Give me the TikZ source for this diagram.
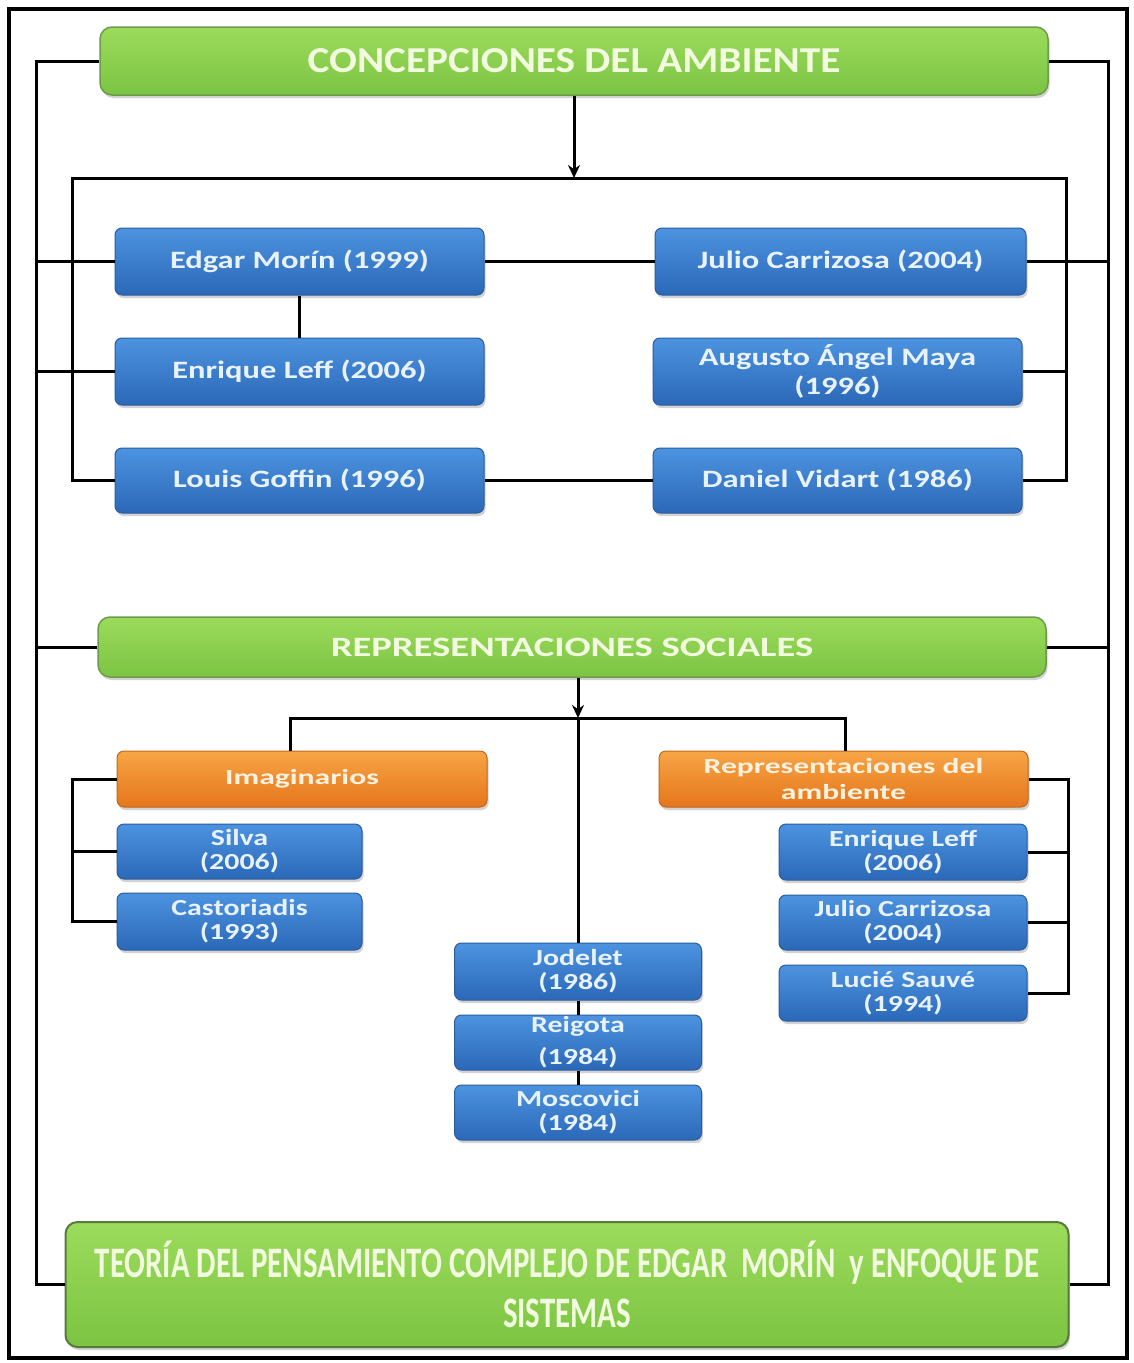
\documentclass[tikz,border=0pt]{standalone}
\usepackage{fontspec}
\setmainfont{Carlito}
\newfontfamily\fA{Carlito}[FakeStretch=1.13]
\newfontfamily\fB{Carlito}[FakeStretch=1.3]
\newfontfamily\fC{Carlito}[FakeStretch=1.38]
\newfontfamily\fE{Carlito}[FakeStretch=1.47]
\newfontfamily\fD{Carlito}[FakeStretch=0.71]
\usetikzlibrary{arrows.meta,shadows,calc}
\definecolor{grntop}{HTML}{9CDB5C}
\definecolor{grnbot}{HTML}{7CC443}
\definecolor{grnedge}{HTML}{6E9A4C}
\definecolor{grntxt}{HTML}{F2FBE0}
\definecolor{blutop}{HTML}{4C93E0}
\definecolor{blubot}{HTML}{2B68B8}
\definecolor{bluedge}{HTML}{2A5C9E}
\definecolor{blutxt}{HTML}{E8F2FC}
\definecolor{ortop}{HTML}{F7A545}
\definecolor{orbot}{HTML}{E5761C}
\definecolor{oredge}{HTML}{C0681E}
\definecolor{ortxt}{HTML}{FFF2E0}
\begin{document}
\begin{tikzpicture}[x=1pt,y=-1pt,
  shad/.style={drop shadow={opacity=0.35,shadow xshift=1.5pt,shadow yshift=-3pt}},
  greenbox/.style={shad,draw=grnedge,line width=1.5pt,rounded corners=12pt,top color=grntop,bottom color=grnbot,text=grntxt,inner sep=0pt,align=center},
  bluebox/.style={shad,draw=bluedge,line width=1pt,rounded corners=7pt,top color=blutop,bottom color=blubot,text=blutxt,inner sep=0pt,align=center},
  bluebig/.style={bluebox,font=\fB\bfseries\fontsize{25}{29}\selectfont},
  bluesmall/.style={bluebox,font=\fB\bfseries\fontsize{23}{24}\selectfont,minimum width=247pt,minimum height=56pt},
  orangebox/.style={shad,draw=oredge,line width=1pt,rounded corners=7pt,top color=ortop,bottom color=orbot,text=ortxt,inner sep=0pt,align=center,font=\fE\bfseries\fontsize{21.5}{26}\selectfont,minimum width=370pt,minimum height=56pt},
  conn/.style={line width=3pt,black},
  arr/.style={conn,-{Stealth[length=13pt,width=12pt]}}
]
\useasboundingbox (0,0) rectangle (1133,1363);
\fill[white] (0,0) rectangle (1133,1363);
\draw[line width=4pt] (9,9) rectangle (1127,1358);

% top section
\node[greenbox,minimum width=948pt,minimum height=68pt,font=\fA\bfseries\fontsize{36.5}{40}\selectfont] (G1) at (574,61) {CONCEPCIONES DEL AMBIENTE};
\node[bluebig,minimum width=369pt,minimum height=67pt] (Edgar) at (299.5,261.5) {Edgar Morín (1999)};
\node[bluebig,minimum width=371pt,minimum height=67pt] (Julio) at (840.5,261.5) {Julio Carrizosa (2004)};
\node[bluebig,minimum width=369pt,minimum height=67pt] (Enrique) at (299.5,371.5) {Enrique Leff (2006)};
\node[bluebig,minimum width=369pt,minimum height=67pt] (Augusto) at (837.5,371.5) {Augusto Ángel Maya\\(1996)};
\node[bluebig,minimum width=369pt,minimum height=65pt] (Louis) at (299.5,480.5) {Louis Goffin (1996)};
\node[bluebig,minimum width=369pt,minimum height=65pt] (Daniel) at (837.5,480.5) {Daniel Vidart (1986)};

% middle section
\node[greenbox,minimum width=948pt,minimum height=60pt,font=\fC\bfseries\fontsize{28}{32}\selectfont] (G2) at (572,647) {REPRESENTACIONES SOCIALES};
\node[orangebox] (Imag) at (302,779) {Imaginarios};
\node[orangebox,minimum width=369pt] (RepAmb) at (843.5,779) {Representaciones del\\ambiente};
\node[bluesmall,minimum width=245pt,minimum height=55pt] (Silva) at (239.5,851.5) {Silva\\(2006)};
\node[bluesmall,minimum width=245pt,minimum height=57pt] (Castoriadis) at (239.5,921.5) {Castoriadis\\(1993)};
\node[bluesmall,minimum width=248pt] (Enrique2) at (903,852) {Enrique Leff\\(2006)};
\node[bluesmall,minimum width=248pt,minimum height=55pt] (Julio2) at (903,922.5) {Julio Carrizosa\\(2004)};
\node[bluesmall,minimum width=248pt] (Lucie) at (903,993) {Lucié Sauvé\\(1994)};
\node[bluesmall,minimum height=57pt] (Jodelet) at (578,971.5) {Jodelet\\(1986)};
\node[bluesmall,minimum height=55pt] (Reigota) at (578,1042.5) {Reigota\\[8pt](1984)};
\node[bluesmall,minimum height=55pt] (Moscovici) at (578,1112.5) {Moscovici\\(1984)};

% bottom
\node[greenbox,draw=grnedge!80!black,line width=2pt,minimum width=1003pt,minimum height=125pt,font=\fD\bfseries\fontsize{43.5}{50}\selectfont] (G3) at (567,1284.5) {TEORÍA DEL PENSAMIENTO COMPLEJO DE EDGAR\ \ MORÍN\ \ y ENFOQUE DE\\SISTEMAS};

% coordinates
\coordinate (T1) at (574,178);
\coordinate (ITL) at (72,178);
\coordinate (ITR) at (1066,178);
\coordinate (T2) at (578,718);

% outer loop
\draw[conn] (G1.west) -- ++(-63,0) |- (G3.west);
\draw[conn] (G1.east) -- ++(60,0) |- (G3.east);
\draw[conn] (Edgar.west) -- ++(-78,0);
\draw[conn] (Enrique.west) -- ++(-78,0);
\draw[conn] (G2.west) -- ++(-61,0);
\draw[conn] (Julio.east) -- ++(82,0);
\draw[conn] (G2.east) -- ++(62,0);

% top inner
\draw[arr] (G1.south) -- (T1);
\draw[conn] (Louis.west) -| (ITL) -- (ITR) |- (Daniel.east);
\draw[conn] (Augusto.east) -- (Augusto.east -| ITR);
\draw[conn] (Edgar.east) -- (Julio.west);
\draw[conn] (Edgar.south) -- (Enrique.north);
\draw[conn] (Louis.east) -- (Daniel.west);

% middle
\draw[arr] (G2.south -| T2) -- (T2);
\draw[conn] ([xshift=-12pt]Imag.north) |- (T2) -| ([xshift=1.5pt]RepAmb.north);
\draw[conn] (T2) -- (Jodelet.north);
\draw[conn] (Jodelet.south) -- (Reigota.north);
\draw[conn] (Reigota.south) -- (Moscovici.north);
\draw[conn] (Imag.west) -- ++(-44,0) |- (Castoriadis.west);
\draw[conn] (Silva.west) -- ++(-44,0);
\draw[conn] (RepAmb.east) -- ++(40,0) |- (Lucie.east);
\draw[conn] (Enrique2.east) -- ++(41,0);
\draw[conn] (Julio2.east) -- ++(41,0);
\end{tikzpicture}
\end{document}
